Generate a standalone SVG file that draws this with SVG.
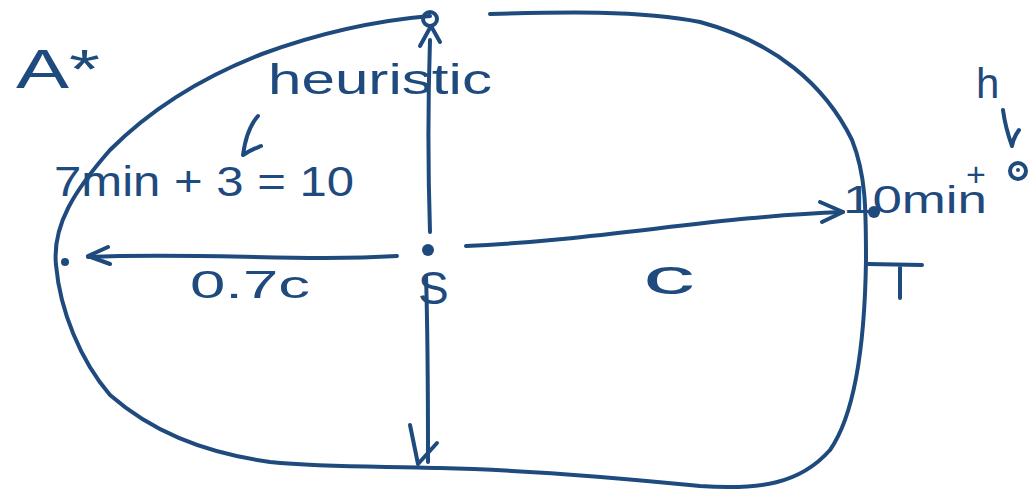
<svg xmlns="http://www.w3.org/2000/svg" width="1034" height="490" viewBox="0 0 1034 490">
<style>
.s{fill:none;stroke:#1f4a7e;stroke-width:4;stroke-linecap:round;stroke-linejoin:round}
.d{fill:#1f4a7e}
.t{fill:#1f4a7e;font-family:"Liberation Sans",sans-serif}
</style>
<rect width="1034" height="490" fill="#ffffff"/>
<g id="boundary">
<path class="s" d="M430,16 C360,22 300,40 262,54 C200,78 150,110 110,150 C75,190 52,225 56,265 C60,310 80,360 110,395 C150,430 200,452 270,462 C330,468 390,466 440,468 C530,470 620,478 700,486 C760,490 800,484 830,450 C858,410 865,330 866,260 C866,210 866,175 852,140 C825,85 775,42 700,22 C640,10 560,12 490,14"/>
<circle class="s" cx="430" cy="19" r="7"/>
</g>
<g id="connectors">
<path class="s" d="M430,40 C428,100 428,170 430,232"/>
<path class="s" d="M420,46 L431,26 L440,42"/>
<path class="s" d="M426,276 C428,340 428,400 428,462"/>
<path class="s" d="M410,425 L418,464 L437,443"/>
<path class="s" d="M397,256 C300,262 200,252 88,257"/>
<path class="s" d="M108,247 L88,256 L110,264"/>
<path class="s" d="M466,246 C600,240 720,216 843,212"/>
<path class="s" d="M820,202 L843,212 L822,222"/>
<path class="s" d="M258,116 C250,125 245,140 243,155 C250,150 256,148 261,146"/>
<path class="s" d="M1003,110 C1005,125 1008,135 1012,146 C1013,140 1016,134 1019,130"/>
</g>
<g id="node-S">
<circle class="d" cx="428" cy="250" r="6"/>
<text class="t" x="418" y="304" font-size="46">S</text>
</g>
<g id="node-left">
<circle class="d" cx="65" cy="262" r="4"/>
<text class="t" x="54" y="196" font-size="42" textLength="300" lengthAdjust="spacingAndGlyphs">7min + 3 = 10</text>
<text class="t" x="190" y="298" font-size="38" textLength="120" lengthAdjust="spacingAndGlyphs">0.7c</text>
</g>
<g id="node-T">
<circle class="d" cx="874" cy="212" r="6"/>
<path class="s" d="M868,264 L922,265 M900,266 L900,298"/>
<text class="t" x="843" y="213" font-size="38" textLength="144" lengthAdjust="spacingAndGlyphs">10min</text>
<text class="t" x="966" y="186" font-size="34">+</text>
<circle class="s" cx="1018" cy="171" r="8"/>
<circle class="d" cx="1018" cy="170" r="2"/>
<text class="t" x="976" y="98" font-size="42">h</text>
</g>
<g id="node-top">
<text class="t" x="268" y="94" font-size="42" textLength="224" lengthAdjust="spacingAndGlyphs">heuristic</text>
</g>
<g id="label-astar">
<text class="t" x="16" y="88" font-size="56" textLength="84" lengthAdjust="spacingAndGlyphs">A*</text>
</g>
<text class="t" x="643" y="294" font-size="50" textLength="52" lengthAdjust="spacingAndGlyphs">c</text>
</svg>
